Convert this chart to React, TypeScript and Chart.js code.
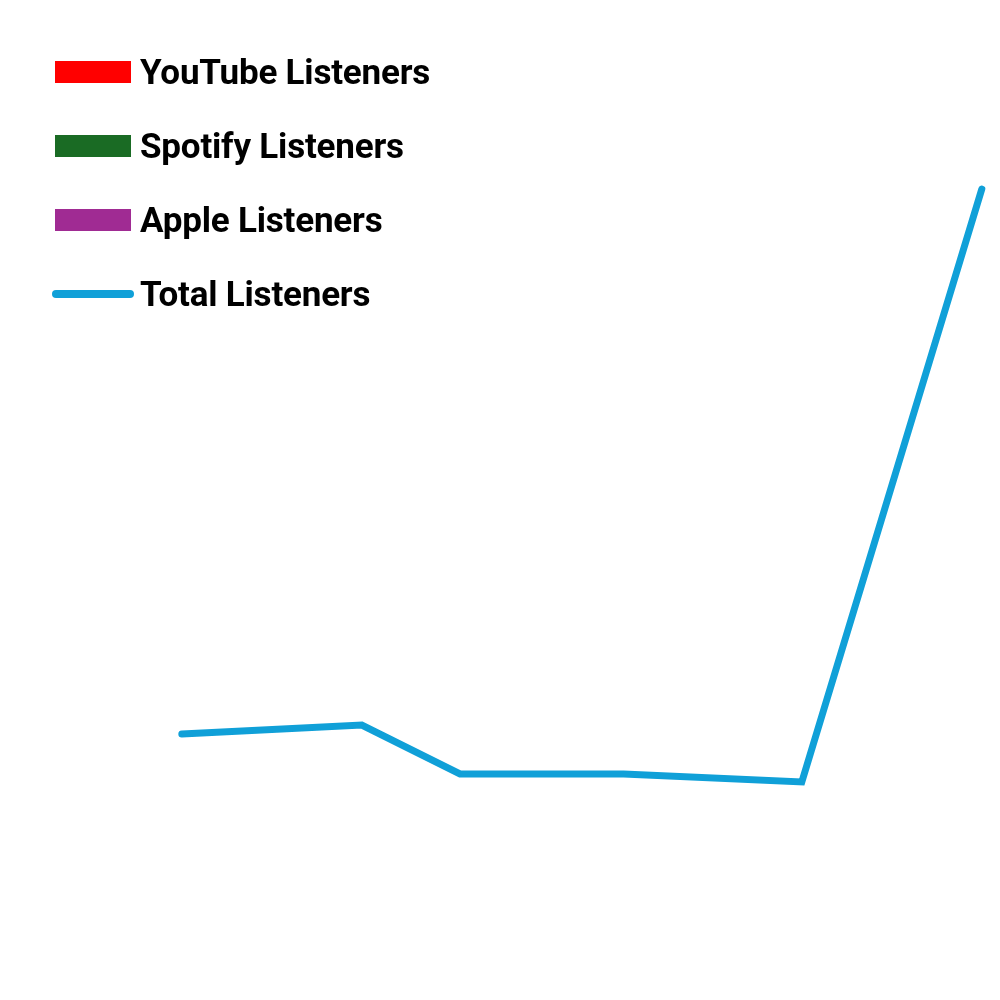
import { useEffect, useRef } from "react";
import { Chart, ChartConfiguration, registerables } from "chart.js";

Chart.register(...registerables);

// weeks since start (x) and total listeners (y, thousands)
const weeks = [0, 9.9, 15.3, 24.3, 34.1, 44];
const totalListeners = [266, 275, 226, 226, 218, 811];

const seriesNames = ["YouTube Listeners", "Spotify Listeners", "Apple Listeners", "Total Listeners"];
const seriesColors = ["#ff0000", "#1a6b24", "#a02b93", "#10a0d8"];

export default function App() {
  const canvasRef = useRef<HTMLCanvasElement>(null);
  const chartRef = useRef<Chart | null>(null);

  useEffect(() => {
    document.body.style.margin = "0";
    if (!canvasRef.current) return;
    if (chartRef.current) chartRef.current.destroy();

    const config: ChartConfiguration<"line"> = {
      type: "line",
      data: {
        datasets: [
          {
            label: seriesNames[3],
            data: weeks.map((w, i) => ({ x: w, y: totalListeners[i] })),
            borderColor: seriesColors[3],
            borderWidth: 7,
            borderCapStyle: "round",
            borderJoinStyle: "miter",
            pointRadius: 0,
            tension: 0,
            fill: false,
          },
        ],
      },
      options: {
        animation: false,
        responsive: true,
        maintainAspectRatio: false,
        layout: { padding: 0 },
        plugins: {
          legend: { display: false },
          tooltip: { enabled: false },
        },
        scales: {
          x: { type: "linear", min: -10, max: 45, display: false },
          y: { min: 0, max: 1000, display: false },
        },
      },
    };

    chartRef.current = new Chart(canvasRef.current, config);

    return () => {
      if (chartRef.current) {
        chartRef.current.destroy();
        chartRef.current = null;
      }
    };
  }, []);

  return (
    <div style={{ position: "relative", width: 1000, height: 1000, background: "#fff" }}>
      <canvas ref={canvasRef} />
      <div style={{ position: "absolute", left: 52, top: 35 }}>
        {seriesNames.map((name, i) => (
          <div
            key={name}
            style={{ display: "flex", alignItems: "center", height: 74 }}
          >
            <div style={{ width: 82, display: "flex", justifyContent: "center" }}>
              {i < 3 ? (
                <div style={{ width: 76, height: 22, background: seriesColors[i] }} />
              ) : (
                <div style={{ width: 82, height: 8, borderRadius: 4, background: seriesColors[i] }} />
              )}
            </div>
            <span
              style={{
                marginLeft: 6,
                fontFamily: "'Roboto', sans-serif",
                fontWeight: "bold",
                fontSize: 35,
                letterSpacing: "-0.2px",
                color: "#000",
                lineHeight: 1,
              }}
            >
              {name}
            </span>
          </div>
        ))}
      </div>
    </div>
  );
}
